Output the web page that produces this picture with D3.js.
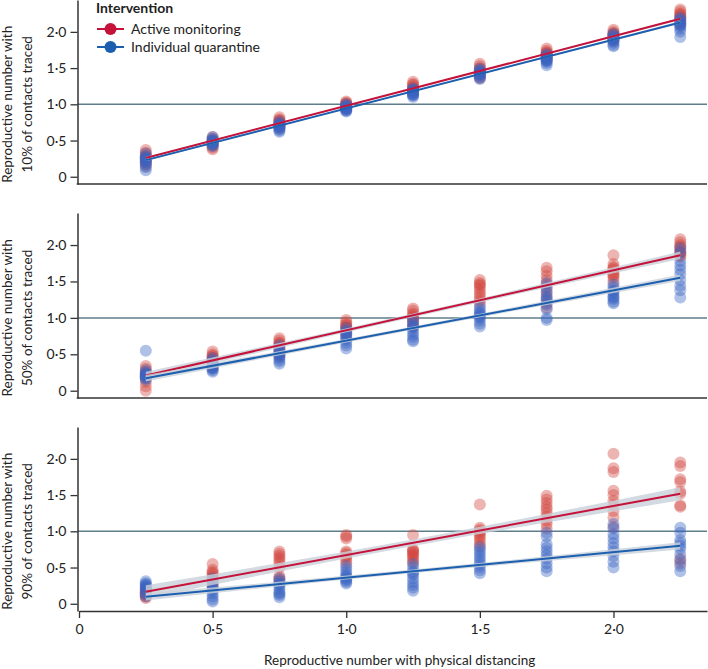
<!DOCTYPE html>
<html><head><meta charset="utf-8">
<script src="https://cdn.jsdelivr.net/npm/d3@7"></script>
<style>body{margin:0;background:#fff}svg{display:block;font-family:Lato,"Open Sans",sans-serif}</style>
</head><body><svg id="c" width="708" height="669"></svg>
<script>
const xValues = [0.25,0.5,0.75,1.0,1.25,1.5,1.75,2.0,2.25];
const xTicks = [0,0.5,1.0,1.5,2.0];
const yTicks = [0,0.5,1.0,1.5,2.0];
const panelLabels = [["Reproductive number with","10% of contacts traced"],["Reproductive number with","50% of contacts traced"],["Reproductive number with","90% of contacts traced"]];
const seriesNames = ["Active monitoring","Individual quarantine"];
const xTitle = "Reproductive number with physical distancing";
const legendTitle = "Intervention";

// points per panel: [x index][values]
const p10Active = [
 [0.37,0.33,0.3,0.27,0.25,0.22,0.18,0.15,0.2,0.28],
 [0.55,0.52,0.49,0.46,0.43,0.4,0.38,0.47,0.5,0.44],
 [0.82,0.79,0.77,0.75,0.73,0.71,0.69,0.67,0.74,0.78],
 [1.04,1.02,1.0,0.99,0.97,0.96,0.94,1.01,0.98,0.95],
 [1.31,1.28,1.25,1.22,1.2,1.18,1.16,1.23,1.27,1.19],
 [1.56,1.53,1.5,1.47,1.45,1.43,1.41,1.38,1.48,1.36],
 [1.77,1.74,1.72,1.7,1.68,1.66,1.64,1.62,1.71,1.69],
 [2.03,2.0,1.98,1.96,1.94,1.92,1.9,1.88,1.97,1.95],
 [2.31,2.28,2.25,2.22,2.2,2.18,2.15,2.12,2.24,2.1]];
const p10Quar = [
 [0.32,0.28,0.25,0.22,0.2,0.17,0.13,0.09,0.24,0.26],
 [0.55,0.52,0.5,0.48,0.46,0.44,0.42,0.5,0.47,0.45],
 [0.76,0.73,0.71,0.7,0.68,0.66,0.64,0.62,0.69,0.72],
 [1.0,0.98,0.96,0.95,0.94,0.92,0.91,0.93,0.97,0.9],
 [1.22,1.2,1.18,1.16,1.14,1.12,1.1,1.15,1.19,1.13],
 [1.49,1.47,1.45,1.43,1.41,1.39,1.37,1.35,1.44,1.42],
 [1.69,1.67,1.65,1.63,1.61,1.59,1.57,1.54,1.64,1.6],
 [1.97,1.95,1.93,1.91,1.89,1.87,1.85,1.82,1.8,1.9],
 [2.2,2.17,2.15,2.13,2.11,2.09,2.07,2.04,2.0,1.93]];
const p50Active = [
 [0.34,0.3,0.26,0.22,0.2,0.17,0.12,0.06,0.0,0.24],
 [0.54,0.5,0.47,0.44,0.41,0.38,0.35,0.45,0.32,0.48],
 [0.72,0.69,0.66,0.63,0.6,0.57,0.54,0.5,0.47,0.65],
 [0.97,0.94,0.91,0.88,0.85,0.82,0.79,0.76,0.9,0.86],
 [1.13,1.1,1.06,1.02,0.98,0.95,0.92,0.88,1.04,1.0],
 [1.52,1.48,1.44,1.4,1.36,1.32,1.28,1.24,1.2,1.46],
 [1.69,1.64,1.58,1.52,1.46,1.4,1.34,1.28,1.2,1.14],
 [1.86,1.74,1.7,1.66,1.62,1.58,1.55,1.5,1.68,1.6],
 [2.08,2.04,2.0,1.96,1.92,1.88,1.84,1.9,1.98,1.86]];
const p50Quar = [
 [0.55,0.28,0.25,0.23,0.21,0.19,0.17,0.15,0.22,0.2],
 [0.45,0.42,0.39,0.36,0.33,0.3,0.28,0.26,0.34,0.31],
 [0.62,0.58,0.55,0.52,0.49,0.46,0.43,0.4,0.37,0.5],
 [0.86,0.82,0.78,0.74,0.7,0.66,0.62,0.58,0.8,0.72],
 [0.98,0.94,0.9,0.86,0.82,0.78,0.74,0.7,0.68,0.88],
 [1.16,1.12,1.08,1.04,1.0,0.96,0.92,0.88,1.06,1.02],
 [1.48,1.42,1.36,1.3,1.24,1.18,1.12,1.0,0.97,1.26],
 [1.46,1.42,1.38,1.34,1.3,1.26,1.22,1.2,1.36,1.28],
 [1.96,1.9,1.78,1.72,1.66,1.6,1.52,1.44,1.38,1.28]];
const p90Active = [
 [0.22,0.19,0.16,0.13,0.1,0.08,0.2,0.14,0.17,0.11],
 [0.55,0.47,0.44,0.4,0.37,0.33,0.3,0.26,0.22,0.42],
 [0.72,0.69,0.66,0.63,0.6,0.38,0.35,0.32,0.5,0.56],
 [0.95,0.9,0.72,0.68,0.64,0.6,0.56,0.66,0.93,0.7],
 [0.95,0.75,0.72,0.7,0.68,0.66,0.63,0.6,0.57,0.74],
 [1.37,1.05,1.02,0.98,0.95,0.92,0.88,0.84,0.8,1.0],
 [1.49,1.44,1.39,1.34,1.3,1.25,1.2,1.15,1.1,1.04],
 [2.07,1.87,1.82,1.56,1.5,1.42,1.36,1.28,1.19,1.06],
 [1.95,1.9,1.72,1.68,1.52,1.36,1.34,1.55,0.62,0.56]];
const p90Quar = [
 [0.31,0.28,0.25,0.22,0.19,0.16,0.13,0.1,0.24,0.27],
 [0.35,0.3,0.26,0.22,0.18,0.14,0.1,0.06,0.03,0.2],
 [0.35,0.31,0.27,0.24,0.2,0.16,0.12,0.09,0.28,0.14],
 [0.52,0.48,0.44,0.4,0.36,0.32,0.28,0.3,0.38,0.34],
 [0.55,0.5,0.45,0.4,0.35,0.3,0.26,0.22,0.18,0.42],
 [0.78,0.74,0.66,0.62,0.58,0.54,0.5,0.46,0.42,0.7],
 [0.98,0.93,0.82,0.77,0.72,0.67,0.62,0.56,0.5,0.45],
 [1.1,1.04,0.96,0.9,0.84,0.78,0.72,0.66,0.58,0.5],
 [1.05,0.98,0.88,0.84,0.8,0.76,0.68,0.6,0.52,0.45]];

// fitted lines: value at x = 0.25 and 2.25; CI half-width at 0.25, 1.25, 2.25
const fitX = [0.25, 1.25, 2.25];
const fitActive = [[0.26,2.18],[0.21,1.86],[0.165,1.52]];
const fitQuar   = [[0.23,2.13],[0.17,1.55],[0.096,0.80]];
const ciActive = [[0.015,0.008,0.015],[0.05,0.025,0.05],[0.09,0.045,0.09]];
const ciQuar   = [[0.015,0.008,0.015],[0.045,0.022,0.045],[0.05,0.025,0.05]];

const panels = [
 {active:p10Active, quar:p10Quar, top:0, bottom:184},
 {active:p50Active, quar:p50Quar, top:213, bottom:398},
 {active:p90Active, quar:p90Quar, top:427, bottom:611}];

const colActiveLine = "#c4123b", colQuarLine = "#1b5fae";
const colActivePt = "#d2463f", colQuarPt = "#3a63c2";
const fmt = v => v === 0 ? "0" : d3.format(".1f")(v).replace(".", "\u00B7");

const svg = d3.select("#c");
const x = d3.scaleLinear().domain([0, 2.35]).range([79, 707]);
const axisX0 = 77.5;

panels.forEach((p, i) => {
  const y = d3.scaleLinear().domain([-0.1, 2.44]).range([p.bottom, p.top]);
  const g = svg.append("g");
  // reference line
  g.append("line").attr("x1", axisX0).attr("x2", 707).attr("y1", y(1)).attr("y2", y(1))
    .attr("stroke", "#5f7e8c").attr("stroke-width", 1.5);
  // points
  const pts = (arr, col) => {
    const data = [];
    arr.forEach((vals, k) => vals.forEach(v => data.push([xValues[k], v])));
    g.append("g").selectAll("circle").data(data).join("circle")
      .attr("cx", d => x(d[0])).attr("cy", d => y(d[1])).attr("r", 6)
      .attr("fill", col).attr("fill-opacity", 0.4);
  };
  pts(p.active, colActivePt);
  pts(p.quar, colQuarPt);
  // fits with CI bands
  const drawFit = (fit, ci, col) => {
    const val = t => fit[0] + (fit[1] - fit[0]) * (t - fitX[0]) / (fitX[2] - fitX[0]);
    const band = fitX.map((t, j) => ({t, lo: val(t) - ci[j], hi: val(t) + ci[j]}));
    g.append("path").datum(band)
      .attr("d", d3.area().x(d => x(d.t)).y0(d => y(d.lo)).y1(d => y(d.hi)).curve(d3.curveNatural))
      .attr("fill", "#c9d1da").attr("fill-opacity", 0.8);
    g.append("line").attr("x1", x(fitX[0])).attr("x2", x(fitX[2]))
      .attr("y1", y(fit[0])).attr("y2", y(fit[1]))
      .attr("stroke", col).attr("stroke-width", 2);
  };
  drawFit(fitActive[i], ciActive[i], colActiveLine);
  drawFit(fitQuar[i], ciQuar[i], colQuarLine);

  // y axis
  const ya = g.append("g").attr("transform", `translate(${axisX0},0)`)
    .call(d3.axisLeft(y).tickValues(yTicks).tickFormat(fmt).tickSize(7).tickPadding(4).tickSizeOuter(0));
  ya.select(".domain").attr("stroke", "#333").attr("stroke-width", 1.5);
  ya.selectAll(".tick line").attr("stroke", "#333").attr("stroke-width", 1.3);
  ya.selectAll(".tick text").attr("font-family", "Lato").attr("font-size", 14).attr("fill", "#222");
  // bottom axis line
  const xa = g.append("g").attr("transform", `translate(0,${p.bottom})`);
  if (i === 2) {
    xa.call(d3.axisBottom(x).tickValues(xTicks).tickFormat(fmt).tickSize(7).tickPadding(6).tickSizeOuter(0));
    xa.selectAll(".tick text").attr("font-family", "Lato").attr("font-size", 14).attr("fill", "#222");
    xa.selectAll(".tick line").attr("stroke", "#333").attr("stroke-width", 1.3);
    xa.select(".domain").attr("stroke", "#333").attr("stroke-width", 1.5);
  } else {
    xa.append("line").attr("x1", axisX0 - 0.75).attr("x2", 707).attr("stroke", "#333").attr("stroke-width", 1.5);
  }
  // y labels
  const cy = y(1);
  panelLabels[i].forEach((t, j) => {
    svg.append("text").attr("transform", `translate(${12 + j * 20},${cy}) rotate(-90)`)
      .attr("text-anchor", "middle").attr("font-size", 13.5).attr("fill", "#222").text(t);
  });
});

// x title
svg.append("text").attr("x", x(1.2)).attr("y", 665).attr("text-anchor", "middle")
  .attr("font-size", 13.5).attr("fill", "#222").text(xTitle);

// legend
const lg = svg.append("g");
lg.append("text").attr("x", 96).attr("y", 13).attr("font-weight", "bold").attr("font-size", 14).attr("fill", "#222").text(legendTitle);
[[colActiveLine, colActivePt],[colQuarLine, colQuarPt]].forEach((c, k) => {
  const yy = 29 + k * 18;
  lg.append("line").attr("x1", 97).attr("x2", 124).attr("y1", yy).attr("y2", yy).attr("stroke", c[0]).attr("stroke-width", 2);
  lg.append("circle").attr("cx", 110.5).attr("cy", yy).attr("r", 6).attr("fill", c[0]);
  lg.append("text").attr("x", 131).attr("y", yy + 5).attr("font-size", 14).attr("fill", "#222").text(seriesNames[k]);
});
</script></body></html>
